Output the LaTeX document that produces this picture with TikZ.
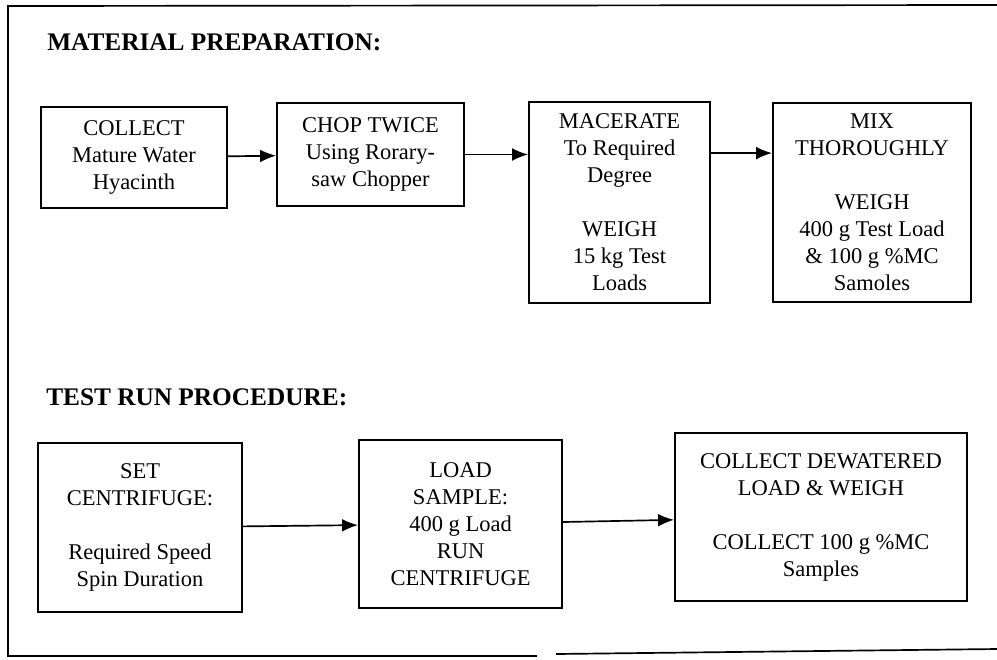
\documentclass[tikz,border=0pt]{standalone}
\usepackage{fontspec}
\setmainfont{Liberation Serif}
\usepackage{tikz}
\usetikzlibrary{arrows.meta,positioning}

\begin{document}
\begin{tikzpicture}[x=0.025cm,y=-0.025cm,
    box/.style={draw,line width=1.3pt,align=center,inner sep=0pt,
      font=\fontsize{16}{19.2}\selectfont},
    head/.style={anchor=base west,inner sep=0pt,
      font=\fontsize{18}{21}\selectfont\bfseries},
    arr/.style={line width=1.2pt,-{Latex[length=4mm,width=3.2mm]}}]
        \useasboundingbox (0,0) rectangle (997,659);
        %Frame
        \draw[line width=1.2pt] (997,5) -- (8,6) -- (8,656) -- (537,656);
        \draw[line width=1.2pt] (556,654) -- (997,649);
        %Headings
        \node[head] (prep) at (47,50) {MATERIAL PREPARATION:};
        \node[head] (run) at (46,405) {TEST RUN PROCEDURE:};
        %Material preparation boxes
        \node[box,minimum width=4.65cm,minimum height=2.525cm] (collect) at (134,157.5)
          {COLLECT\\Mature Water\\Hyacinth};
        \node[box,minimum width=4.675cm,minimum height=2.575cm] (chop) at (370.5,154.5)
          {CHOP TWICE\\Using Rorary-\\saw Chopper};
        \node[box,minimum width=4.525cm,minimum height=5.025cm] (macerate) at (619.5,202.5)
          {MACERATE\\To Required\\Degree\\[19.2pt]WEIGH\\15 kg Test\\Loads};
        \node[box,minimum width=4.95cm,minimum height=4.975cm] (mix) at (872,202.5)
          {MIX\\THOROUGHLY\\[19.2pt]WEIGH\\400 g Test Load\\\& 100 g \%MC\\Samoles};
        %Test run boxes
        \node[box,minimum width=5.1cm,minimum height=4.225cm] (set) at (140,527.5)
          {SET\\CENTRIFUGE:\\[19.2pt]Required Speed\\Spin Duration};
        \node[box,minimum width=5.075cm,minimum height=4.2cm] (load) at (460.5,524)
          {LOAD\\SAMPLE:\\400 g Load\\RUN\\CENTRIFUGE};
        \node[box,minimum width=7.3cm,minimum height=4.2cm] (dewater) at (821,517)
          {COLLECT DEWATERED\\LOAD \& WEIGH\\[19.2pt]COLLECT 100 g \%MC\\Samples};
        %Arrows
        \draw[arr] (collect) -- (chop);
        \draw[arr] (chop.east) -- (chop.east -| macerate.west);
        \draw[arr] ([yshift=1pt]chop.east -| macerate.east) -- ([yshift=1pt]chop.east -| mix.west);
        \draw[arr] (set) -- (load);
        \draw[arr] (load) -- (dewater);
\end{tikzpicture}
\end{document}
